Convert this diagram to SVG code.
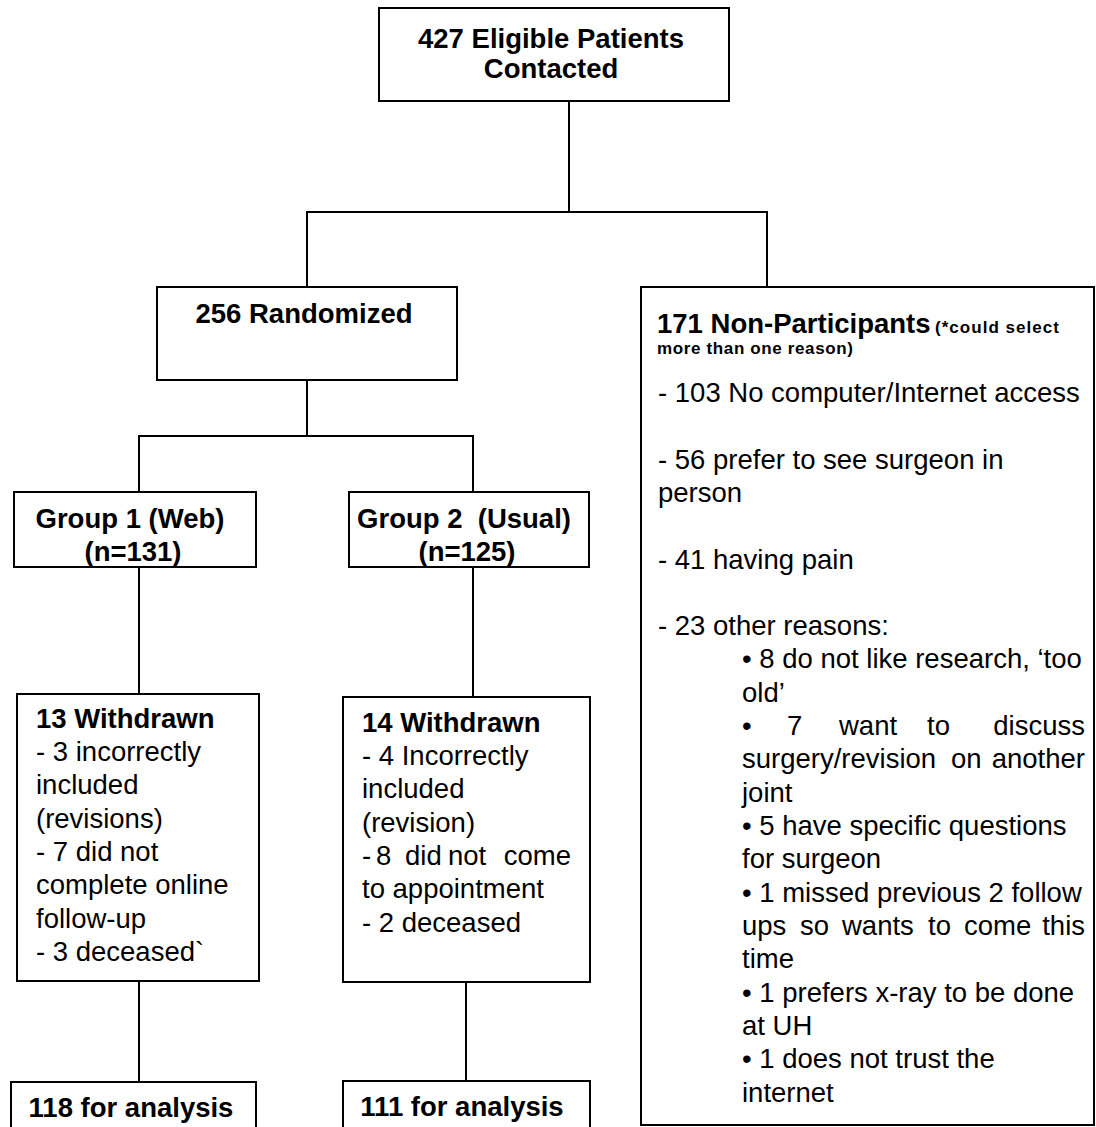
<svg xmlns="http://www.w3.org/2000/svg" width="1096" height="1127" viewBox="0 0 1096 1127">
<style>
.box{fill:#fff;stroke:#000;stroke-width:2}
.ln{fill:none;stroke:#000;stroke-width:2}
text{font-family:"Liberation Sans",Arial,sans-serif;font-size:27.5px;fill:#000}
.b{font-weight:bold}
.sm{font-size:17px;font-weight:bold}
.mid{text-anchor:middle}
.end{text-anchor:end}
</style>
<rect width="1096" height="1127" fill="#fff"/>
<g id="connectors">
<polyline class="ln" points="569,101 569,212"/>
<polyline class="ln" points="307,287 307,212 767,212 767,287"/>
<polyline class="ln" points="307,380 307,436"/>
<polyline class="ln" points="139,492 139,436 473,436 473,492"/>
<polyline class="ln" points="139,567 139,694"/>
<polyline class="ln" points="473,567 473,697"/>
<polyline class="ln" points="139,981 139,1082"/>
<polyline class="ln" points="466,982 466,1081"/>
</g>
<g id="n-eligible">
<rect class="box" x="379" y="8" width="350" height="93"/>
<text class="b mid" x="551" y="48">427 Eligible Patients</text>
<text class="b mid" x="551" y="78">Contacted</text>
</g>
<g id="n-randomized">
<rect class="box" x="157" y="287" width="300" height="93"/>
<text class="b mid" x="304" y="323">256 Randomized</text>
</g>
<g id="n-nonpart">
<rect class="box" x="641" y="287" width="453" height="838"/>
<text class="b" x="657" y="333">171 Non-Participants</text>
<text class="sm" x="935" y="333" textLength="124" lengthAdjust="spacing">(*could select</text>
<text class="sm" x="657" y="354" textLength="196" lengthAdjust="spacing">more than one reason)</text>
<text x="658" y="402">- 103 No computer/Internet access</text>
<text x="658" y="469">- 56 prefer to see surgeon in</text>
<text x="658" y="502">person</text>
<text x="658" y="569">- 41 having pain</text>
<text x="658" y="635">- 23 other reasons:</text>
<text x="742" y="668">• 8 do not like research, ‘too</text>
<text x="742" y="702">old’</text>
<text y="735"><tspan x="742">•</tspan><tspan x="787">7</tspan><tspan x="839">want</tspan><tspan x="927">to</tspan></text>
<text class="end" x="1085" y="735">discuss</text>
<text y="768"><tspan x="742">surgery/revision</tspan><tspan x="951">on</tspan></text>
<text class="end" x="1085" y="768">another</text>
<text x="742" y="802">joint</text>
<text x="742" y="835">• 5 have specific questions</text>
<text x="742" y="868">for surgeon</text>
<text x="742" y="902">• 1 missed previous 2 follow</text>
<text y="935"><tspan x="742">ups</tspan><tspan x="800">so</tspan><tspan x="842">wants</tspan><tspan x="928">to</tspan><tspan x="964">come</tspan></text>
<text class="end" x="1085" y="935">this</text>
<text x="742" y="968">time</text>
<text x="742" y="1002">• 1 prefers x-ray to be done</text>
<text x="742" y="1035">at UH</text>
<text x="742" y="1068">• 1 does not trust the</text>
<text x="742" y="1102">internet</text>
</g>
<g id="n-group1">
<rect class="box" x="14" y="492" width="242" height="75"/>
<text class="b mid" x="130" y="528">Group 1 (Web)</text>
<text class="b mid" x="133" y="561">(n=131)</text>
</g>
<g id="n-group2">
<rect class="box" x="349" y="492" width="240" height="75"/>
<text class="b mid" x="464" y="528" xml:space="preserve">Group 2  (Usual)</text>
<text class="b mid" x="467" y="561">(n=125)</text>
</g>
<g id="n-withdrawn1">
<rect class="box" x="17" y="694" width="242" height="287"/>
<text class="b" x="36" y="728">13 Withdrawn</text>
<text x="36" y="761">- 3 incorrectly</text>
<text x="36" y="794">included</text>
<text x="36" y="828">(revisions)</text>
<text x="36" y="861">- 7 did not</text>
<text x="36" y="894">complete online</text>
<text x="36" y="928">follow-up</text>
<text x="36" y="961">- 3 deceased`</text>
</g>
<g id="n-withdrawn2">
<rect class="box" x="343" y="697" width="247" height="285"/>
<text class="b" x="362" y="732">14 Withdrawn</text>
<text x="362" y="765">- 4 Incorrectly</text>
<text x="362" y="798">included</text>
<text x="362" y="832">(revision)</text>
<text y="865"><tspan x="362">-</tspan><tspan x="376">8</tspan><tspan x="405">did</tspan><tspan x="448">not</tspan></text>
<text class="end" x="571" y="865">come</text>
<text x="362" y="898">to appointment</text>
<text x="362" y="932">- 2 deceased</text>
</g>
<g id="n-analysis1">
<rect class="box" x="11" y="1082" width="245" height="70"/>
<text class="b mid" x="131" y="1117">118 for analysis</text>
</g>
<g id="n-analysis2">
<rect class="box" x="343" y="1081" width="247" height="70"/>
<text class="b mid" x="462" y="1116">111 for analysis</text>
</g>
</svg>
